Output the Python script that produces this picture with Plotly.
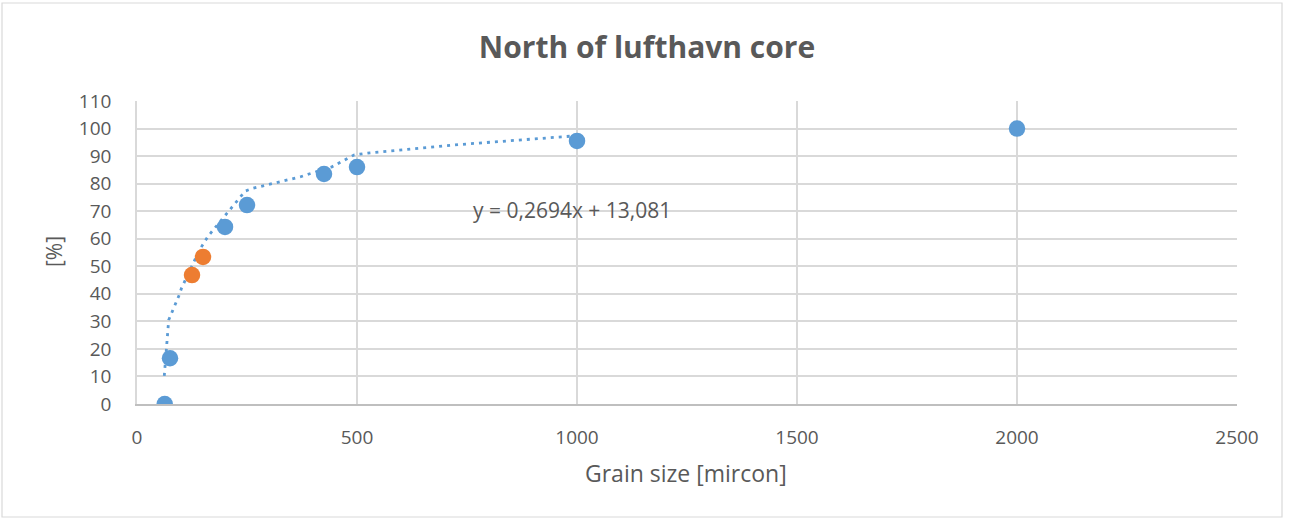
import plotly.graph_objects as go

# Sieve results: grain size (micron) vs cumulative percentage
blue_x = [63, 75, 200, 250, 425, 500, 1000, 2000]
blue_y = [0, 16.6, 64.3, 72.2, 83.5, 86.0, 95.5, 100.0]
orange_x = [125, 150]
orange_y = [46.8, 53.4]

# Trend curve through the blue series
trend_x = [62, 67, 72, 81, 89, 96, 101, 125, 142, 162, 198, 234, 246, 263, 318, 372, 391, 443, 493, 530, 734, 1000]
trend_y = [10.2, 19.6, 30.5, 33.9, 36.8, 39.6, 42.0, 50.5, 55.9, 61.0, 68.0, 75.2, 77.3, 78.3, 80.3, 82.5, 83.5, 86.1, 90.4, 91.2, 94.2, 97.4]
trend_label = "y = 0,2694x + 13,081"
trend_label_pos = (988, 70.5)

x_ticks = [0, 500, 1000, 1500, 2000, 2500]
y_ticks = list(range(0, 111, 10))

BLUE = "#5B9BD5"
ORANGE = "#ED7D31"
TEXT = "#595959"
GRID = "#D9D9D9"
FONT = "Open Sans"

PLOT_W, PLOT_H = 1100, 303

fig = go.Figure()
fig.add_trace(go.Scatter(
    x=trend_x, y=trend_y, mode="lines",
    line=dict(color=BLUE, width=2.8, dash="3px,5px"),
    hoverinfo="skip", showlegend=False,
))
fig.add_trace(go.Scatter(
    x=blue_x, y=blue_y, mode="markers",
    marker=dict(color=BLUE, size=16.5, line=dict(width=0)),
    showlegend=False,
))
fig.add_trace(go.Scatter(
    x=orange_x, y=orange_y, mode="markers",
    marker=dict(color=ORANGE, size=16.5, line=dict(width=0)),
    showlegend=False,
))

fig.add_annotation(
    x=trend_label_pos[0], y=trend_label_pos[1], text=trend_label,
    showarrow=False, font=dict(family=FONT, size=21, color=TEXT),
    xanchor="center", yanchor="middle",
)
# y-axis title
fig.add_annotation(
    xref="paper", yref="paper", x=-(137 - 54) / PLOT_W, y=(404 - 252) / PLOT_H,
    text="[%]", textangle=-90, showarrow=False,
    font=dict(family=FONT, size=21, color=TEXT),
    xanchor="center", yanchor="middle",
)
# x-axis title
fig.add_annotation(
    xref="paper", yref="paper", x=(686 - 137) / PLOT_W, y=-(473 - 404) / PLOT_H,
    text="Grain size [mircon]", showarrow=False,
    font=dict(family=FONT, size=23, color=TEXT),
    xanchor="center", yanchor="middle",
)

fig.update_layout(
    width=1290, height=519,
    paper_bgcolor="white", plot_bgcolor="white",
    margin=dict(l=137, r=53, t=101, b=115),
    title=dict(
        text="<b>North of lufthavn core</b>",
        x=647 / 1290, xanchor="center", xref="container",
        y=1 - 47 / 519, yanchor="middle", yref="container",
        font=dict(family=FONT, size=30, color=TEXT),
    ),
    font=dict(family=FONT, size=17, color=TEXT),
    shapes=[dict(
        type="rect", xref="paper", yref="paper",
        x0=-135 / PLOT_W, x1=1 + 45 / PLOT_W, y0=-113 / PLOT_H, y1=1 + 98 / PLOT_H,
        line=dict(color=GRID, width=1.2), fillcolor="rgba(0,0,0,0)", layer="below",
    )],
)

fig.update_xaxes(
    range=[0, 2500], tickvals=x_ticks, ticktext=[str(v) for v in x_ticks],
    showgrid=True, gridcolor=GRID, gridwidth=1.5,
    zeroline=False, showline=True, linecolor="#BFBFBF", linewidth=1.5,
    ticks="", tickfont=dict(family=FONT, size=19, color=TEXT), ticklabelstandoff=15,
)
fig.update_yaxes(
    range=[0, 110], tickvals=y_ticks, ticktext=[str(v) for v in y_ticks],
    showgrid=True, gridcolor=GRID, gridwidth=1.5,
    zeroline=False, showline=True, linecolor=GRID, linewidth=1.5,
    ticks="", tickfont=dict(family=FONT, size=19, color=TEXT), ticklabelstandoff=20,
)

fig.write_html("out.html")
